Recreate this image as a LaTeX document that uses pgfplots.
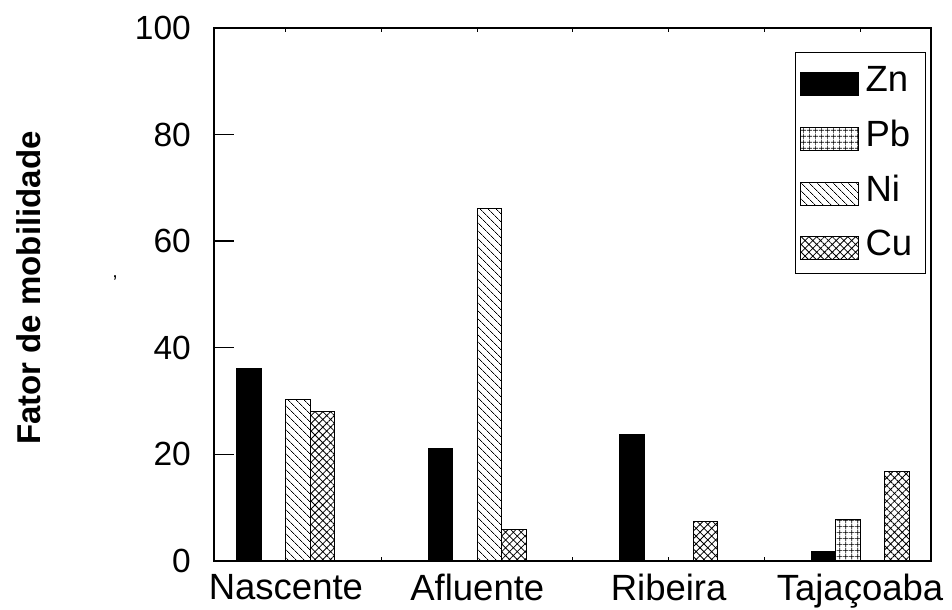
\documentclass[border=0pt]{standalone}
\usepackage{fontspec}
\setmainfont{Liberation Sans}
\usepackage{pgfplots}
\pgfplotsset{compat=1.18}
\usetikzlibrary{patterns.meta}
\begin{document}
\begin{tikzpicture}
\path[use as bounding box] (-214bp,-49bp) rectangle (738bp,561bp);
\begin{axis}[
  at={(0,0)}, anchor=south west,
  scale only axis, width=717bp, height=533bp,
  xmin=0.624, xmax=4.371, ymin=0, ymax=100,
  ybar=0pt, bar width=24.5bp,
  axis line style={line width=1.4bp},
  tick align=inside,
  xtick={1,2,3,4},
  xticklabels={Nascente,Afluente,Ribeira,Tajaçoaba},
  x tick style={draw=none},
  minor xtick={1,1.5,...,4},
  minor tick length=4bp,
  minor x tick style={line width=1bp, draw=black},
  ytick={0,20,40,60,80,100},
  ytick pos=left,
  major tick length=20bp,
  y tick style={line width=1.4bp, draw=black},
  /pgf/number format/assume math mode=true,
  yticklabel style={font=\fontsize{33.5bp}{36bp}\selectfont, inner sep=0pt, xshift=-23bp},
  xticklabel style={font=\fontsize{36.5bp}{40bp}\selectfont, inner sep=0pt, yshift=-13bp},
  ylabel={Fator de mobilidade},
  ylabel style={at={(axis description cs:-0.258,0.512)}, anchor=center, font=\bfseries\fontsize{33bp}{36bp}\selectfont},
  legend image code/.code={\draw[#1] (0bp,-4bp) rectangle (58bp,19bp);},
  legend style={at={(rel axis cs:0.993,0.955)}, anchor=north east, draw=black, line width=0.8bp,
    font=\fontsize{36.5bp}{40bp}\selectfont, inner xsep=4bp, inner ysep=14bp, row sep=24bp,
    nodes={inner sep=0pt}, cells={anchor=base west},
    /tikz/every odd column/.append style={column sep=7bp}},
]
\addplot[fill=black, draw=black, line width=1bp] coordinates {(1,36.2) (2,21.2) (3,23.7) (4,1.7)};
\addlegendentry{\makebox[56bp][l]{Zn}}
\addplot[draw=black, line width=1bp, pattern={Hatch[angle=0,distance=6bp,line width=0.8bp]}] coordinates {(4,7.8)};
\addlegendentry{Pb}
\addplot[draw=black, line width=1bp, pattern={Lines[angle=-45,distance=6bp,line width=0.8bp]}] coordinates {(1,30.3) (2,66.1)};
\addlegendentry{Ni}
\addplot[draw=black, line width=1bp, pattern={Hatch[angle=45,distance=5.5bp,line width=0.8bp]}] coordinates {(1,28.1) (2,5.9) (3,7.5) (4,16.7)};
\addlegendentry{Cu}
\end{axis}
\node[font=\fontsize{20bp}{20bp}\selectfont, inner sep=0pt] at (-99bp,278bp) {'};
\end{tikzpicture}
\end{document}
